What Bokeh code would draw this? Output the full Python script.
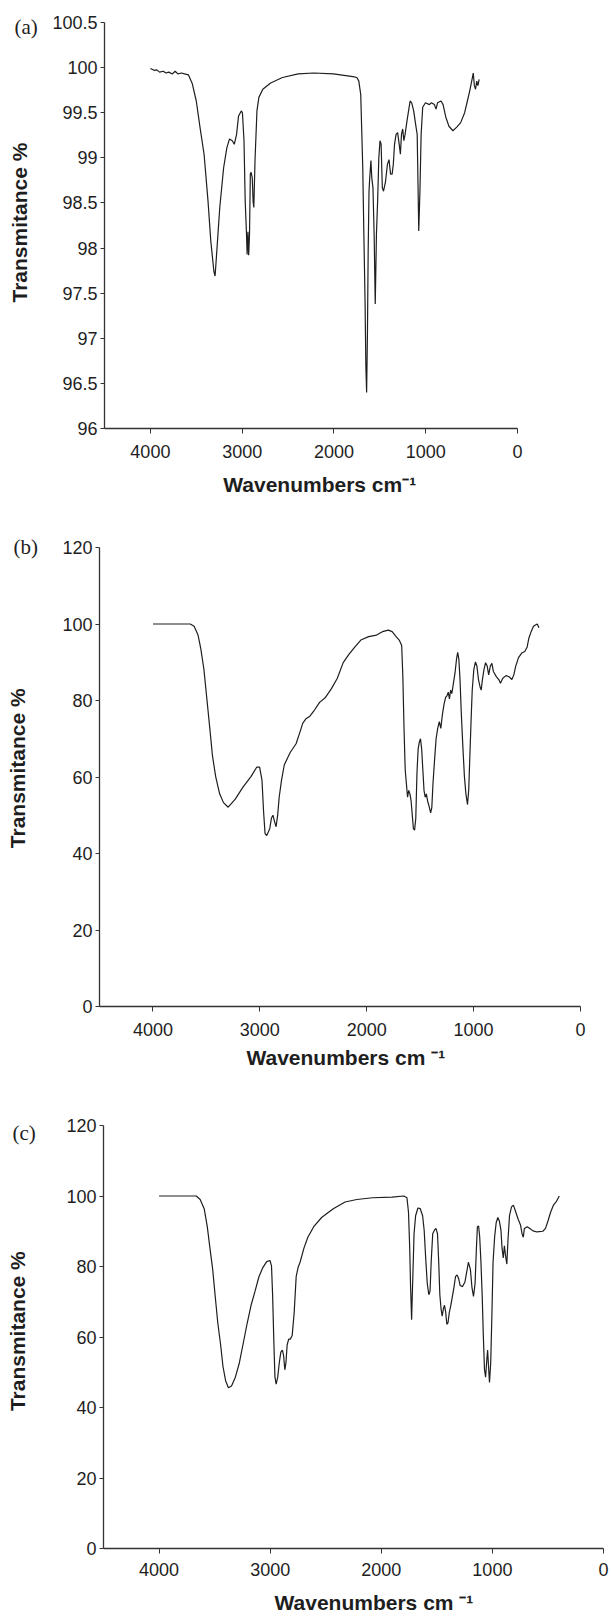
from bokeh.plotting import figure
from bokeh.layouts import column
from bokeh.models import Range1d, FixedTicker, CustomJSTickFormatter, Title
from bokeh.embed import file_html
from bokeh.resources import INLINE

# ---------------- data ----------------
wn_a = [4000, 3960, 3930, 3900, 3860, 3830, 3800, 3760, 3730, 3700, 3660, 3628, 3586, 3543,
        3500, 3458, 3415, 3372, 3342, 3308, 3295, 3274, 3244, 3202, 3167, 3138, 3108, 3086,
        3061, 3040, 3010, 2997, 2980, 2967, 2954, 2946, 2937, 2929, 2920, 2911, 2903, 2890,
        2881, 2873, 2860, 2839, 2818, 2775, 2690, 2561, 2390, 2220, 2006, 1793, 1750, 1729,
        1708, 1686, 1674, 1661, 1652, 1644, 1635, 1627, 1618, 1610, 1597, 1588, 1575, 1562,
        1550, 1537, 1524, 1511, 1498, 1486, 1473, 1460, 1439, 1417, 1400, 1383, 1366, 1353,
        1340, 1323, 1306, 1289, 1276, 1264, 1251, 1238, 1225, 1204, 1187, 1170, 1153, 1131,
        1110, 1093, 1084, 1076, 1063, 1050, 1033, 1003, 960, 939, 905, 888, 871, 833, 811,
        781, 747, 704, 662, 619, 576, 546, 521, 499, 482, 470, 457, 444, 431, 418]
t_a = [99.99, 99.97, 99.975, 99.95, 99.96, 99.94, 99.95, 99.93, 99.96, 99.93, 99.94, 99.93,
       99.92, 99.82, 99.63, 99.33, 99.04, 98.52, 98.08, 97.74, 97.69, 98.00, 98.45, 98.89,
       99.11, 99.21, 99.19, 99.15, 99.26, 99.46, 99.52, 99.50, 99.19, 98.52, 98.19, 97.93,
       98.18, 97.92, 98.15, 98.82, 98.84, 98.78, 98.52, 98.45, 98.97, 99.52, 99.67, 99.76,
       99.83, 99.89, 99.93, 99.94, 99.93, 99.90, 99.89, 99.85, 99.70, 98.89, 98.15, 97.41,
       96.68, 96.40, 97.05, 97.97, 98.63, 98.78, 98.97, 98.78, 98.67, 98.15, 97.38, 98.15,
       98.52, 99.00, 99.19, 99.15, 98.67, 98.63, 98.73, 98.93, 98.98, 98.82, 98.82, 98.93,
       99.15, 99.26, 99.28, 99.15, 99.04, 99.26, 99.32, 99.19, 99.26, 99.41, 99.52, 99.63,
       99.61, 99.52, 99.37, 99.26, 98.71, 98.19, 98.63, 99.26, 99.56, 99.61, 99.59, 99.61,
       99.59, 99.54, 99.61, 99.63, 99.59, 99.45, 99.35, 99.30, 99.34, 99.39, 99.50, 99.63,
       99.74, 99.85, 99.94, 99.80, 99.76, 99.85, 99.80, 99.87]

wn_b = [4000, 3651, 3615, 3578, 3552, 3523, 3494, 3468, 3443, 3413, 3376, 3340, 3296, 3230,
        3156, 3083, 3028, 3002, 2980, 2965, 2951, 2936, 2921, 2907, 2892, 2877, 2863, 2848,
        2833, 2819, 2797, 2771, 2716, 2661, 2624, 2598, 2569, 2532, 2496, 2441, 2386, 2330,
        2275, 2220, 2165, 2110, 2055, 1982, 1908, 1853, 1798, 1762, 1725, 1696, 1673, 1662,
        1651, 1640, 1629, 1618, 1607, 1596, 1585, 1574, 1563, 1552, 1541, 1530, 1519, 1508,
        1497, 1486, 1475, 1464, 1453, 1442, 1431, 1417, 1402, 1391, 1380, 1365, 1351, 1336,
        1321, 1307, 1292, 1277, 1262, 1248, 1237, 1226, 1215, 1204, 1189, 1174, 1160, 1149,
        1138, 1127, 1116, 1101, 1086, 1072, 1057, 1046, 1035, 1024, 1013, 998, 983, 969, 954,
        940, 929, 918, 903, 888, 873, 859, 844, 829, 815, 789, 763, 749, 727, 697, 668, 642,
        624, 606, 580, 550, 521, 499, 484, 462, 440, 418, 404, 389]
t_b = [100.0, 100.0, 99.4, 97.1, 93.5, 88.1, 80.0, 72.7, 65.5, 60.1, 55.6, 53.3, 52.1, 54.2,
       57.4, 60.1, 62.6, 62.6, 59.2, 51.0, 45.2, 44.7, 45.6, 46.5, 49.2, 50.0, 48.4, 47.0,
       50.1, 54.7, 59.2, 63.2, 66.4, 68.7, 71.8, 74.1, 75.2, 75.9, 77.2, 79.5, 80.8, 83.1,
       85.8, 89.9, 92.1, 94.0, 95.8, 96.7, 97.1, 98.0, 98.4, 98.0, 96.7, 95.8, 94.4, 86.3,
       72.7, 61.9, 58.3, 54.7, 56.5, 55.6, 53.8, 50.1, 46.5, 46.1, 49.2, 61.0, 67.3, 69.1,
       70.0, 67.3, 61.9, 56.5, 54.7, 55.6, 53.8, 52.4, 50.6, 52.0, 58.3, 64.6, 70.0, 72.7,
       74.5, 72.7, 76.3, 79.0, 80.8, 81.3, 82.2, 80.4, 82.7, 81.8, 84.5, 87.2, 90.8, 92.6,
       90.8, 85.4, 77.2, 68.2, 60.1, 55.6, 52.8, 56.5, 65.5, 74.5, 82.7, 88.1, 90.1, 89.0,
       85.4, 83.6, 82.7, 85.4, 88.1, 89.9, 89.0, 86.7, 89.0, 89.7, 87.6, 86.3, 85.4, 84.5,
       85.8, 86.5, 86.2, 85.5, 86.7, 89.0, 91.2, 92.4, 92.8, 94.0, 96.2, 98.0, 99.4, 99.8,
       100.0, 99.0]

wn_c = [4000, 3665, 3630, 3594, 3566, 3542, 3517, 3496, 3471, 3446, 3425, 3401, 3376, 3348,
        3313, 3277, 3242, 3207, 3172, 3136, 3101, 3066, 3031, 3002, 2988, 2978, 2967, 2957,
        2946, 2932, 2918, 2904, 2890, 2879, 2868, 2858, 2847, 2833, 2819, 2802, 2784, 2766,
        2749, 2731, 2696, 2661, 2608, 2537, 2432, 2326, 2220, 2079, 1903, 1797, 1769, 1755,
        1744, 1737, 1727, 1716, 1705, 1691, 1670, 1649, 1628, 1614, 1600, 1586, 1572, 1561,
        1551, 1537, 1522, 1508, 1494, 1483, 1473, 1462, 1452, 1441, 1431, 1420, 1410, 1399,
        1388, 1374, 1360, 1346, 1332, 1318, 1304, 1290, 1269, 1247, 1233, 1216, 1198, 1184,
        1170, 1156, 1145, 1135, 1124, 1114, 1103, 1092, 1082, 1071, 1061, 1050, 1043, 1033,
        1026, 1015, 1004, 994, 980, 966, 951, 937, 923, 913, 902, 892, 881, 870, 860, 846,
        828, 811, 789, 768, 747, 733, 722, 712, 687, 663, 634, 599, 546, 522, 500, 476, 451,
        423, 398]
t_c = [100.0, 100.0, 99.0, 96.4, 91.3, 85.2, 79.1, 72.0, 63.9, 57.8, 51.7, 47.6, 45.6, 46.1,
       48.6, 52.7, 58.3, 63.9, 69.0, 73.0, 77.1, 79.7, 81.4, 81.7, 80.2, 72.0, 58.8, 48.6,
       46.6, 48.6, 52.7, 55.7, 56.3, 54.7, 50.7, 52.7, 57.8, 59.4, 59.4, 60.4, 66.9, 77.1,
       79.7, 81.2, 85.2, 88.3, 91.3, 93.9, 96.4, 98.3, 99.0, 99.5, 99.7, 100.0, 99.5, 95.4,
       85.2, 75.1, 64.9, 77.1, 89.3, 94.4, 96.6, 96.4, 94.4, 90.3, 82.2, 75.1, 72.0, 73.0,
       81.2, 89.3, 90.3, 90.8, 89.3, 81.2, 72.0, 68.0, 65.9, 68.0, 69.0, 67.0, 63.6, 64.1,
       66.9, 69.0, 71.5, 74.1, 77.1, 77.6, 76.6, 74.6, 74.3, 75.6, 78.1, 81.2, 79.2, 74.1,
       71.5, 75.1, 84.2, 91.3, 91.5, 88.3, 81.2, 72.0, 60.8, 50.7, 48.6, 53.7, 56.3, 50.7,
       47.1, 52.7, 66.9, 81.2, 88.3, 92.4, 93.9, 92.9, 90.3, 85.2, 82.4, 85.9, 82.9, 80.7,
       87.3, 94.4, 96.9, 97.4, 95.4, 93.4, 91.8, 89.3, 88.3, 90.8, 91.3, 90.8, 90.1, 89.8,
       90.0, 90.8, 92.9, 95.4, 97.4, 98.5, 100.0]

xticks = [4000, 3000, 2000, 1000, 0]
yticks_a = [96, 96.5, 97, 97.5, 98, 98.5, 99, 99.5, 100, 100.5]
yticks_bc = [0, 20, 40, 60, 80, 100, 120]
ylim_a = (96, 100.5)
ylim_bc = (0, 120)
panel_tags = ["(a)", "(b)", "(c)"]
ytitle = "Transmitance %"
xtitles = ["Wavenumbers cm\u207b\u00b9", "Wavenumbers cm \u207b\u00b9", "Wavenumbers cm \u207b\u00b9"]

SANS = "Liberation Sans"
SERIF = "Liberation Serif"
INK = "#1e1e1e"
NB = "\u00a0"


def make_panel(wn, t, ylim, yticks, height, left, right, top, bottom, tag, tag_offset,
               tag_standoff, ylab, ylab_standoff, xlab, xlab_standoff, x_lab_st, decimals):
    p = figure(width=611, height=height, x_range=Range1d(4500, 0),
               y_range=Range1d(*ylim), output_backend="svg", toolbar_location=None,
               min_border_left=left, min_border_right=right, min_border_top=top,
               min_border_bottom=bottom, background_fill_color="white",
               border_fill_color="white", frame_align=False)
    p.outline_line_color = None
    p.grid.visible = False
    p.line(wn, t, line_color=INK, line_width=1.2)

    xa = p.xaxis[0]
    xa.ticker = FixedTicker(ticks=xticks)
    xa.minor_tick_line_color = None
    xa.major_tick_in = 0
    xa.major_tick_out = 5
    xa.major_label_standoff = x_lab_st
    xa.axis_line_color = "#333333"
    xa.axis_line_width = 1.3
    xa.major_tick_line_color = "#333333"
    xa.major_label_text_font = SANS
    xa.major_label_text_font_size = "18px"
    xa.major_label_text_color = INK
    xa.axis_label = xlab
    xa.axis_label_standoff = xlab_standoff
    xa.axis_label_text_font = SANS
    xa.axis_label_text_font_size = "21px"
    xa.axis_label_text_font_style = "bold"
    xa.axis_label_text_color = INK

    ya = p.yaxis[0]
    ya.ticker = FixedTicker(ticks=yticks)
    ya.minor_tick_line_color = None
    ya.major_tick_in = 0
    ya.major_tick_out = 4
    ya.major_label_standoff = 3
    ya.axis_line_color = "#333333"
    ya.axis_line_width = 1.3
    ya.major_tick_line_color = "#333333"
    ya.major_label_text_font = SANS
    ya.major_label_text_font_size = "18px"
    ya.major_label_text_color = INK
    ya.axis_label = ylab
    ya.axis_label_standoff = ylab_standoff
    ya.axis_label_text_font = SANS
    ya.axis_label_text_font_size = "21px"
    ya.axis_label_text_font_style = "bold"
    ya.axis_label_text_color = INK
    if decimals:
        ya.formatter = CustomJSTickFormatter(code="return tick.toString()")

    p.add_layout(Title(text=tag, align="left", offset=tag_offset, vertical_align="bottom",
                       standoff=tag_standoff, text_font=SERIF, text_font_size="21px",
                       text_font_style="normal", text_color=INK), "above")
    return p


pa = make_panel(wn_a, t_a, ylim_a, yticks_a, 510, 104, 94, 22, 82, panel_tags[0], -90, -32,
                NB + ytitle, 18, NB * 3 + xtitles[0], 12, 11, True)
pb = make_panel(wn_b, t_b, ylim_bc, yticks_bc, 575, 99, 31, 37, 79, panel_tags[1], -86, -22,
                NB * 3 + ytitle, 30, NB * 2 + xtitles[1], 7, 11, False)
pc = make_panel(wn_c, t_c, ylim_bc, yticks_bc, 535, 103, 8, 40, 72, panel_tags[2], -91, -38,
                NB * 2 + ytitle, 34, NB * 7 + xtitles[2], 12, 9, False)

layout = column(pa, pb, pc, spacing=0)
open("out.html", "w").write(file_html(layout, INLINE))
